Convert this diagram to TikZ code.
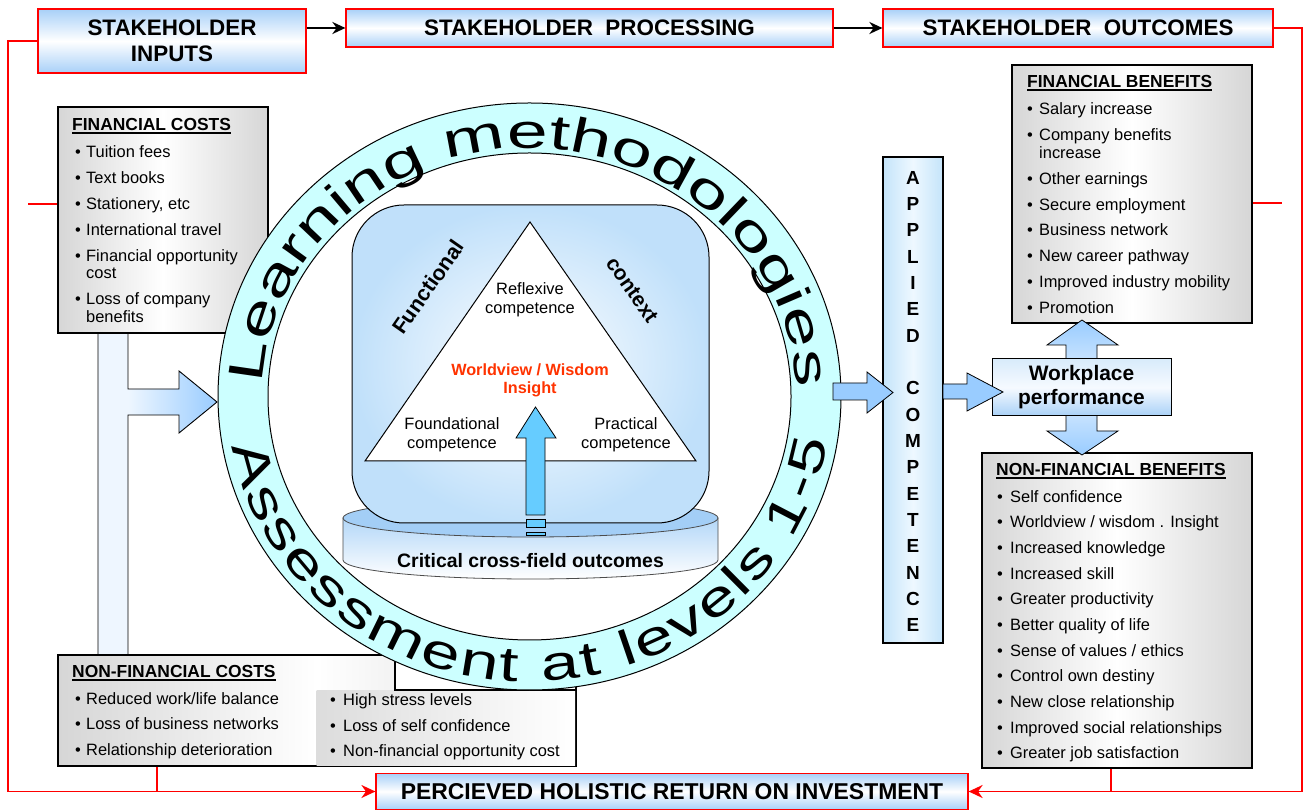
\documentclass[tikz,border=0pt]{standalone}
\usepackage{fontspec}
\setmainfont{Liberation Sans}
\newfontfamily\ringfont[FakeStretch=1.5]{Liberation Sans}
\newfontfamily\ringfontb[FakeStretch=1.42]{Liberation Sans}
\usetikzlibrary{arrows.meta,decorations.text,calc}
\definecolor{hred}{HTML}{FF0000}
\definecolor{hdrblue}{HTML}{A8D0F8}
\definecolor{boxgray}{HTML}{D6D6D6}
\definecolor{tlight}{HTML}{EEF6FF}
\definecolor{blockblue}{HTML}{99CCFF}
\definecolor{upblue}{HTML}{66CCFF}
\definecolor{ringcyan}{HTML}{CCFFFF}
\definecolor{cylface}{HTML}{A3CEF6}
\definecolor{cylside}{HTML}{B3D7F8}
\definecolor{rboxblue}{HTML}{C0E0FA}
\definecolor{appblue}{HTML}{C4E4FA}
\definecolor{applight}{HTML}{EEF8FF}
\definecolor{wptop}{HTML}{D8EBFB}
\definecolor{wpmid}{HTML}{F6FAFF}
\definecolor{wpbot}{HTML}{A9D1F7}
\definecolor{wred}{HTML}{FF3300}
\definecolor{dlight}{HTML}{E6F2FF}

\newlength{\bpre}\newlength{\bwid}
\newcommand{\bitem}[1]{\hspace*{\bpre}\makebox[\bwid][l]{\textbullet}#1}
\newcommand{\bcont}[1]{\hspace*{\bpre}\hspace*{\bwid}#1}
\newcommand{\fsz}[2]{\fontsize{#1}{#2}\selectfont}
\newcommand{\tul}[1]{\setbox0\hbox{#1}\rlap{\rule[-3bp]{\wd0}{1.5bp}}\box0}
\newcommand{\boxtitle}[1]{{\fsz{17.5}{18}\bfseries\tul{#1}}}

\tikzset{
  hdr/.style={draw=hred, line width=1.2bp, top color=hdrblue, bottom color=hdrblue, middle color=white, inner sep=0pt, font=\fsz{22.5}{26}\bfseries, align=center},
  graybox/.style={draw=black, line width=1.6bp, left color=boxgray, right color=boxgray, middle color=white, inner sep=0pt},
  boxtext/.style={anchor=north west, inner sep=0pt, align=left, font=\fsz{16.5}{18}},
  redline/.style={draw=hred, line width=1.8bp},
  redarrow/.style={redline, -{Stealth[length=14bp,width=13bp]}},
  blkarrow/.style={draw=black, line width=2.4bp, -{Stealth[length=13bp,width=12bp]}},
  blockarrow/.style={draw=black, line width=0.8bp, fill=blockblue},
  tritext/.style={font=\fsz{16.5}{19}, align=center, inner sep=0pt},
}

\begin{document}
\begin{tikzpicture}[x=1bp,y=1bp]
\useasboundingbox (0,0) rectangle (1305,810);
\fill[white] (0,0) rectangle (1305,810);

% ---------- left T connector ----------
\fill[tlight] (98,155) rectangle (128,477);
\shade[left color=tlight, right color=blockblue] (128,395) -- (179,395) -- (179,377) -- (217,408) -- (179,439) -- (179,421) -- (128,421) -- cycle;
\draw[line width=0.9bp] (98,477) -- (98,155) (128,155) -- (128,395) -- (179,395) -- (179,377) -- (217,408) -- (179,439) -- (179,421) -- (128,421) -- (128,477);

% ---------- gray boxes ----------
\node[graybox, minimum width=210bp, minimum height=226bp] (fc) at (163,590) {};
\node[graybox, minimum width=240bp, minimum height=258bp] (fb) at (1132,616) {};
\node[graybox, minimum width=270bp, minimum height=315bp] (nfb) at (1117,199.5) {};
\node[graybox, minimum width=518bp, minimum height=111bp] (nfc) at (317,99.5) {};
\shade[left color=boxgray!85, right color=white] (316.5,44.8) rectangle (575.2,120);
\filldraw[fill=white, draw=black, line width=1.6bp] (395,120) rectangle (576,155);

\setlength{\bpre}{3bp}\setlength{\bwid}{11bp}
\node[boxtext] (fct) at (72,691.5) {\boxtitle{FINANCIAL COSTS}\\[8.5bp]
\bitem{Tuition fees}\\[8bp]
\bitem{Text books}\\[8bp]
\bitem{Stationery, etc}\\[8bp]
\bitem{International travel}\\[8bp]
\bitem{Financial opportunity}\\
\bcont{cost}\\[8bp]
\bitem{Loss of company}\\
\bcont{benefits}};

\node[boxtext] (nfct) at (72,144.5) {\boxtitle{NON-FINANCIAL COSTS}\\[8.5bp]
\bitem{Reduced work/life balance}\\[7.6bp]
\bitem{Loss of business networks}\\[7.6bp]
\bitem{Relationship deterioration}};

\setlength{\bpre}{0bp}\setlength{\bwid}{13bp}
\node[boxtext] (nfct2) at (330,117) {\bitem{High stress levels}\\[8bp]
\bitem{Loss of self confidence}\\[8bp]
\bitem{Non-financial opportunity cost}};

\setlength{\bpre}{0bp}\setlength{\bwid}{12bp}
\node[boxtext] (fbt) at (1027,734.5) {\boxtitle{FINANCIAL BENEFITS}\\[8.5bp]
\bitem{Salary increase}\\[8bp]
\bitem{Company benefits}\\
\bcont{increase}\\[8bp]
\bitem{Other earnings}\\[8bp]
\bitem{Secure employment}\\[8bp]
\bitem{Business network}\\[8bp]
\bitem{New career pathway}\\[8bp]
\bitem{Improved industry mobility}\\[8bp]
\bitem{Promotion}};

\setlength{\bpre}{1bp}\setlength{\bwid}{13bp}
\node[boxtext] (nfbt) at (996,346.5) {\boxtitle{NON-FINANCIAL BENEFITS}\\[8.5bp]
\bitem{Self confidence}\\[7.7bp]
\bitem{Worldview / wisdom . Insight}\\[7.7bp]
\bitem{Increased knowledge}\\[7.7bp]
\bitem{Increased skill}\\[7.7bp]
\bitem{Greater productivity}\\[7.7bp]
\bitem{Better quality of life}\\[7.7bp]
\bitem{Sense of values / ethics}\\[7.7bp]
\bitem{Control own destiny}\\[7.7bp]
\bitem{New close relationship}\\[7.7bp]
\bitem{Improved social relationships}\\[7.7bp]
\bitem{Greater job satisfaction}};

% ---------- ring ----------
\begin{scope}[shift={(529.5,413.5)}]
  \filldraw[fill=ringcyan, draw=black, line width=1bp] (0,0) ellipse[x radius=311.5, y radius=293.5];
  \filldraw[fill=white, draw=black, line width=1bp] (0,0) ellipse[x radius=261.5, y radius=243.5];
  \path[decorate, decoration={text along path, text align={fit to path},
      text={|\ringfont\fsz{49}{52}|Learning methodologies}}]
    (177:267 and 248) arc[start angle=177, end angle=2, x radius=267, y radius=248];
  \path[decorate, decoration={text along path, text align={fit to path},
      text={|\ringfontb\fsz{49}{52}|Assessment at levels 1-5}}]
    (190:302 and 285) arc[start angle=190, end angle=351, x radius=302, y radius=285];
\end{scope}

% ---------- cylinder base ----------
\shadedraw[top color=cylside, bottom color=white, draw=black!70, line width=0.8bp]
  (343,292) -- (343,250) arc[start angle=180, end angle=360, x radius=187.5, y radius=19] -- (718,292) -- cycle;
\filldraw[fill=cylface, draw=black!70, line width=0.8bp] (530.5,292) ellipse[x radius=187.5, y radius=19];

% ---------- rounded box and triangle ----------
\node[draw=black, line width=1bp, rounded corners=52bp, minimum width=357bp, minimum height=318bp, inner color=white, outer color=rboxblue] (rbox) at (530.5,446) {};
\coordinate (ta) at (530,588);
\coordinate (tb) at (365,349);
\coordinate (tc) at (696,349);
\filldraw[fill=white, draw=black, line width=1bp] (ta) -- (tb) -- (tc) -- cycle;

\node[tritext] (refl) at (530,510.5) {Reflexive\\competence};
\node[tritext] (found) at (452,375.5) {Foundational\\competence};
\node[tritext] (pract) at (626,375.5) {Practical\\competence};
\node[font=\fsz{16.3}{18}\bfseries, text=wred, align=center, inner sep=0pt] (wis) at (530,430) {Worldview / Wisdom\\Insight};
\node[font=\fsz{21.5}{22}\bfseries, rotate=55, inner sep=0pt] (func) at (428,523) {Functional};
\node[font=\fsz{21}{22}\bfseries, rotate=-55, inner sep=0pt] (ctx) at (632,520) {context};

\filldraw[fill=upblue, draw=black, line width=0.8bp] (535.5,403) -- (556,372) -- (545,372) -- (545,295) -- (526,295) -- (526,372) -- (516,372) -- cycle;
\filldraw[fill=upblue, draw=black, line width=0.8bp] (526,283) rectangle (545,291);
\filldraw[fill=upblue, draw=black, line width=0.8bp] (526,275) rectangle (545,278);
\node[font=\fsz{19.5}{22}\bfseries, inner sep=0pt] (ccf) at (530.5,249) {Critical cross-field outcomes};

% ---------- applied competence ----------
\node[draw=black, line width=1.2bp, left color=appblue, right color=appblue, middle color=applight, minimum width=60bp, minimum height=486bp, inner sep=0pt] (app) at (913,410) {};
\node[font=\fsz{19}{26.4}\bfseries, align=center, inner sep=0pt] (apptxt) at (913,408.5)
  {A\\P\\P\\L\\I\\E\\D\\[26.4bp]C\\O\\M\\P\\E\\T\\E\\N\\C\\E};
\filldraw[blockarrow] (833,427) -- (867,427) -- (867,438) -- (893,417.5) -- (867,397) -- (867,410) -- (833,410) -- cycle;

% ---------- workplace ----------
\shadedraw[top color=blockblue, bottom color=blockblue, middle color=dlight, draw=black, line width=0.8bp]
  (1082,490) -- (1118,465) -- (1097,465) -- (1097,379) -- (1118,379) -- (1082,355) -- (1047,379) -- (1066,379) -- (1066,465) -- (1047,465) -- cycle;
\node[draw=black, line width=1bp, top color=wptop, bottom color=wpbot, middle color=wpmid, minimum width=179bp, minimum height=57bp, inner sep=0pt, font=\fsz{21}{24}\bfseries, align=center] (wp) at (1081.5,422.5) {Workplace\\performance};
\filldraw[blockarrow] (943,426) -- (967,426) -- (967,437) -- (1003,418) -- (967,399) -- (967,411) -- (943,411) -- cycle;

% ---------- header boxes ----------
\node[hdr, minimum width=268bp, minimum height=64bp] (inputs) at (172,769) {STAKEHOLDER\\INPUTS};
\node[hdr, minimum width=487bp, minimum height=38bp] (proc) at (589.5,782) {STAKEHOLDER\ \ PROCESSING};
\node[hdr, minimum width=390bp, minimum height=38bp] (outc) at (1078,782) {STAKEHOLDER\ \ OUTCOMES};
\node[hdr, minimum width=592bp, minimum height=36bp, font=\fsz{23}{26}\bfseries] (roi) at (672,18.5) {PERCIEVED HOLISTIC RETURN ON INVESTMENT};

\draw[blkarrow] (inputs.east |- proc.west) -- (proc.west);
\draw[blkarrow] (proc.east) -- (outc.west);

% ---------- red feedback lines ----------
\draw[redarrow] (inputs.west) -- (8,769) |- (roi.west);
\draw[redarrow] (outc.east) -- (1302,782) |- (roi.east);
\coordinate (j1) at (157,18.5);
\coordinate (j2) at (1111,18.5);
\draw[redline] (j1 |- nfc.south) -- (j1);
\draw[redline] (j2 |- nfb.south) -- (j2);
\coordinate (tl) at (28,606);
\coordinate (tr) at (1282,607);
\draw[redline] (tl) -- (tl -| fc.west);
\draw[redline] (tr -| fb.east) -- (tr);
\end{tikzpicture}
\end{document}
